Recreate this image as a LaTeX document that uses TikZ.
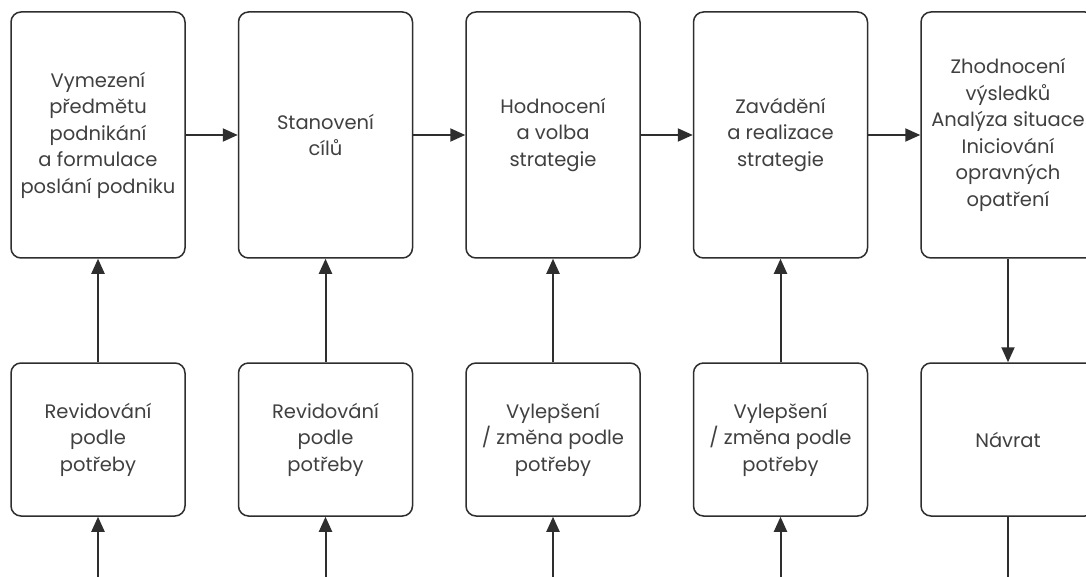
\documentclass[tikz,border=0pt]{standalone}
\usepackage{fontspec}
\setmainfont{Poppins}
\usetikzlibrary{arrows.meta}
\definecolor{linegray}{HTML}{2E2E2E}
\definecolor{textgray}{HTML}{404040}
\tikzset{
  stage/.style={draw=linegray, line width=1.5pt, rounded corners=10pt,
    minimum width=174pt, minimum height=246pt, inner sep=0pt,
    align=center, text=textgray, font=\fontsize{19.5}{26.5}\selectfont},
  review/.style={stage, minimum height=153pt},
  flow/.style={draw=linegray, line width=2pt,
    -{Triangle[length=15pt,width=13pt]}},
  plain/.style={draw=linegray, line width=2pt}
}
\begin{document}
\begin{tikzpicture}[x=1pt,y=-1pt]
\clip (0,0) rectangle (1086,577);
\fill[white] (0,0) rectangle (1086,577);

% upper row: the stages
\node[stage] (s1) at (98,135) {Vymezení\\předmětu\\podnikání\\a formulace\\poslání podniku};
\node[stage] (s2) at (325.5,135) {Stanovení\\cílů};
\node[stage] (s3) at (553,135) {Hodnocení\\a volba\\strategie};
\node[stage] (s4) at (780.5,135) {Zavádění\\a realizace\\strategie};
\node[stage] (s5) at (1008,135) {Zhodnocení\\výsledků\\Analýza situace\\Iniciování\\opravných\\opatření};

% lower row: feedback boxes
\node[review] (r1) at (98,439.5) {Revidování\\podle\\potřeby};
\node[review] (r2) at (325.5,439.5) {Revidování\\podle\\potřeby};
\node[review] (r3) at (553,439.5) {Vylepšení\\/ změna podle\\potřeby};
\node[review] (r4) at (780.5,439.5) {Vylepšení\\/ změna podle\\potřeby};
\node[review] (r5) at (1008,439.5) {Návrat};

% loose ends at the lower border
\coordinate (e1) at (98,580);
\coordinate (e2) at (325.5,580);
\coordinate (e3) at (553,580);
\coordinate (e4) at (780.5,580);
\coordinate (e5) at (1008,580);

% main flow
\draw[flow] (s1) -- (s2);
\draw[flow] (s2) -- (s3);
\draw[flow] (s3) -- (s4);
\draw[flow] (s4) -- (s5);

% feedback into the stages
\draw[flow] (r1) -- (s1);
\draw[flow] (r2) -- (s2);
\draw[flow] (r3) -- (s3);
\draw[flow] (r4) -- (s4);
\draw[flow] (s5) -- (r5);

% incoming lines from below
\draw[flow] (e1) -- (r1);
\draw[flow] (e2) -- (r2);
\draw[flow] (e3) -- (r3);
\draw[flow] (e4) -- (r4);
\draw[plain] (r5) -- (e5);
\end{tikzpicture}
\end{document}
